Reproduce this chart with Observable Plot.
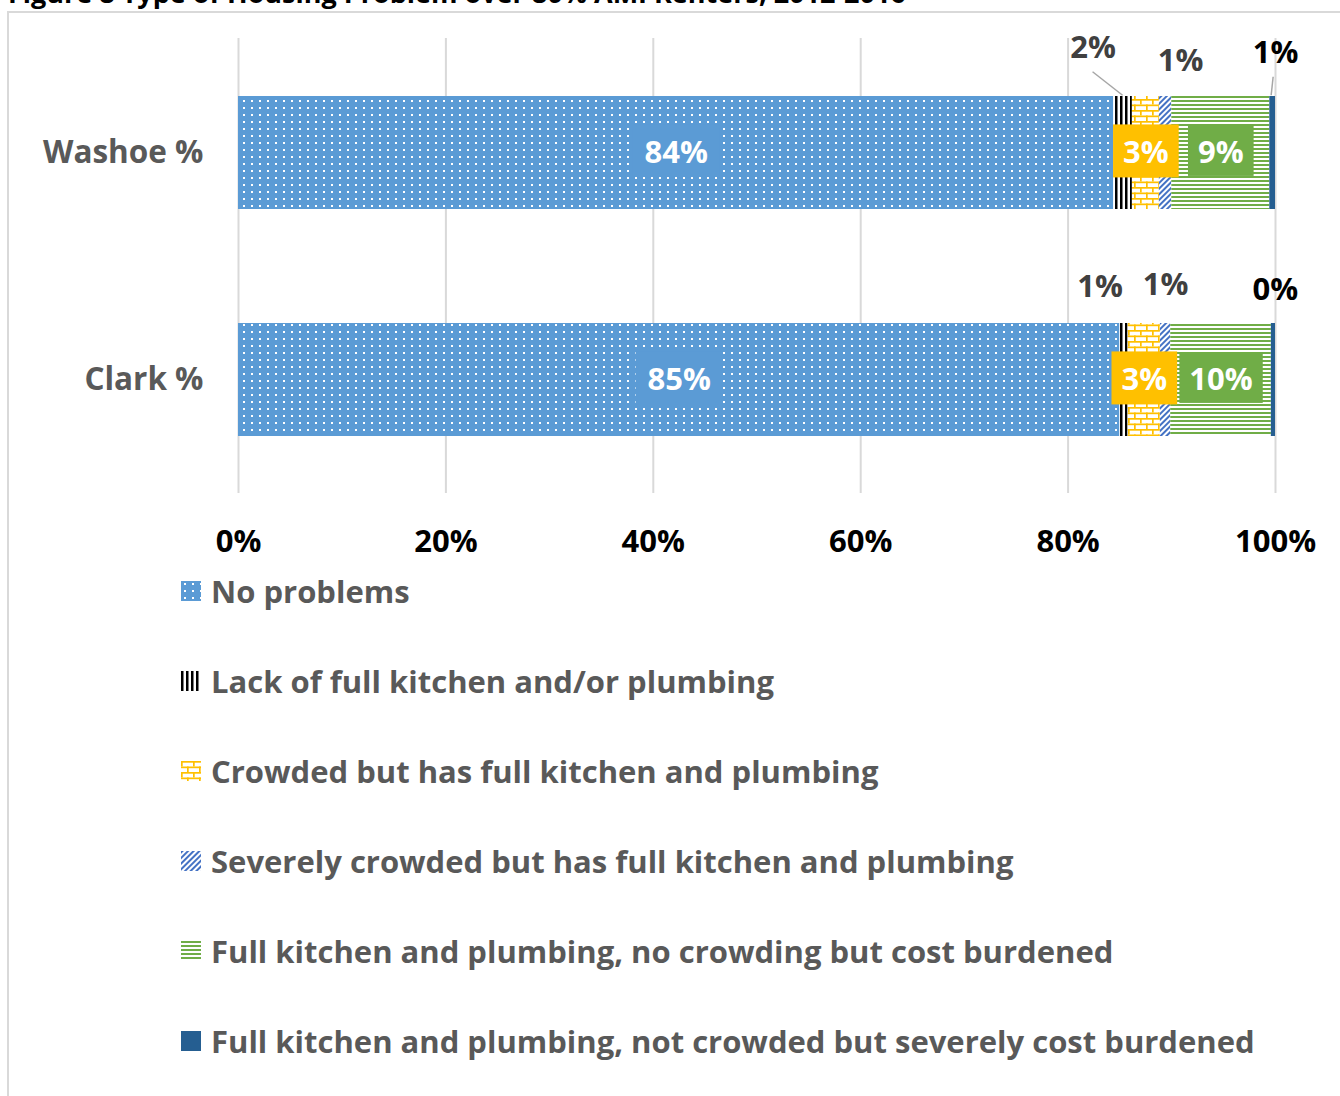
<!DOCTYPE html>
<html><head><meta charset="utf-8">
<script src="https://cdn.jsdelivr.net/npm/d3@7"></script>
<script src="https://cdn.jsdelivr.net/npm/@observablehq/plot@0.6"></script>
<style>
body{margin:0;background:#fff;font-family:"Open Sans", sans-serif;}
#wrap{position:relative;width:1340px;height:1096px;overflow:hidden;background:#fff}
#frame{position:absolute;left:7px;top:11px;width:1400px;height:1200px;border:2px solid #d9d9d9;box-sizing:border-box}
#title{position:absolute;left:8px;top:-20px;font:bold 27px "Open Sans", sans-serif;line-height:26px;color:#000;white-space:nowrap}
#chart{position:absolute;left:0;top:0}
#legend{position:absolute;left:181px;top:571px}
.row{position:absolute;left:0;height:40px;display:flex;align-items:center;white-space:nowrap}
.row span{margin-left:10px;font:bold 31px "Open Sans", sans-serif;color:#595959}
</style></head>
<body>
<svg width="0" height="0" style="position:absolute">
<defs>
<pattern id="pDots" patternUnits="userSpaceOnUse" width="8" height="7">
  <rect width="8" height="7" fill="#5B9BD5"/>
  <rect x="3" y="2" width="2" height="2" fill="#fff"/>
</pattern>
<pattern id="pVert" patternUnits="userSpaceOnUse" width="5" height="5">
  <rect width="5" height="5" fill="#fff"/>
  <rect width="2.5" height="5" fill="#000"/>
</pattern>
<pattern id="pBrick" patternUnits="userSpaceOnUse" width="12" height="11">
  <rect width="12" height="11" fill="#fff"/>
  <rect y="0" width="12" height="1.7" fill="#FFC000"/>
  <rect y="5.5" width="12" height="1.7" fill="#FFC000"/>
  <rect x="0" y="0" width="1.7" height="5.5" fill="#FFC000"/>
  <rect x="6" y="5.5" width="1.7" height="5.5" fill="#FFC000"/>
</pattern>
<pattern id="pDiag" patternUnits="userSpaceOnUse" width="4" height="4" patternTransform="rotate(45)">
  <rect width="4" height="4" fill="#fff"/>
  <rect width="2" height="4" fill="#4472C4"/>
</pattern>
<pattern id="pHoriz" patternUnits="userSpaceOnUse" width="4" height="4">
  <rect width="4" height="4" fill="#fff"/>
  <rect width="4" height="2" fill="#70AD47"/>
</pattern>
</defs></svg>
<div id="wrap">
  <div id="title">Figure 8 Type of Housing Problem over 80% AMI Renters, 2012-2016</div>
  <div id="frame"></div>
  <div id="chart"></div>
  <div id="legend"></div>
</div>
<script>
// ---- data ----
const regions = ["Washoe %", "Clark %"];
const types = [
  "No problems",
  "Lack of full kitchen and/or plumbing",
  "Crowded but has full kitchen and plumbing",
  "Severely crowded but has full kitchen and plumbing",
  "Full kitchen and plumbing, no crowding but cost burdened",
  "Full kitchen and plumbing, not crowded but severely cost burdened"
];
const washoe = [84.4, 1.8, 2.6, 1.2, 9.45, 0.55];
const clark  = [85.0, 0.8, 3.1, 1.0, 9.7, 0.4];
const xTicks = [0, 20, 40, 60, 80, 100];

// ---- styles ----
const fills = ["url(#pDots)", "url(#pVert)", "url(#pBrick)", "url(#pDiag)", "url(#pHoriz)", "#255E91"];
const boxStyle = {0: {color: "#5B9BD5", padX: 12, h: 52}, 2: {color: "#FFC000", padX: 10, h: 53}, 4: {color: "#70AD47", padX: 10, h: 50}};
const outsideStyle = [
  {region: "Washoe %", ti: 1, dx: -30, dy: -105, color: "#404040", leader: [0, 25, 0]},
  {region: "Washoe %", ti: 3, dx: 15, dy: -92, color: "#404040"},
  {region: "Washoe %", ti: 5, dx: 3, dy: -100, color: "#000", leader: [-2, 25, -1]},
  {region: "Clark %", ti: 1, dx: -24, dy: -93, color: "#404040"},
  {region: "Clark %", ti: 3, dx: 0, dy: -95, color: "#404040"},
  {region: "Clark %", ti: 5, dx: 2, dy: -90, color: "#000"}
];

const rows = [];
regions.forEach((r, ri) => {
  const vals = ri === 0 ? washoe : clark;
  let acc = 0;
  vals.forEach((v, ti) => { rows.push({region: r, type: types[ti], ti, value: v, mid: acc + v / 2}); acc += v; });
});
const pct = d => Math.round(d.value) + "%";
const inner = rows.filter(d => d.ti % 2 === 0);
const INNER_FILL = "#ffffff";

const plot = Plot.plot({
  width: 1340, height: 560,
  marginLeft: 238, marginRight: 65, marginTop: 38, marginBottom: 67,
  x: {domain: [0, 100], axis: null},
  y: {domain: regions, axis: null, paddingInner: 0.503, paddingOuter: 0.2516},
  color: {type: "ordinal", domain: types, range: fills},
  style: {fontFamily: "'Open Sans', sans-serif", background: "transparent", overflow: "visible"},
  marks: [
    Plot.ruleX(xTicks, {x: d => d, stroke: "#d9d9d9", strokeWidth: 2}),
    Plot.barX(rows, Plot.stackX({x: "value", y: "region", fill: "type", order: types})),
    Plot.text(inner, {x: "mid", y: "region", text: pct, fill: INNER_FILL, fontSize: 31, fontWeight: "bold"}),
    ...outsideStyle.map(o => Plot.text(rows.filter(d => d.region === o.region && d.ti === o.ti),
      {x: "mid", y: "region", text: pct, dx: o.dx, dy: o.dy, fill: o.color, fontSize: 31, fontWeight: "bold"})),
    Plot.text(regions, {y: d => d, frameAnchor: "left", textAnchor: "end", dx: -35, fill: "#595959", fontSize: 31.5, fontWeight: "bold"}),
    Plot.text(xTicks, {x: d => d, frameAnchor: "bottom", dy: 58, text: d => d + "%", fill: "#000", fontSize: 31, fontWeight: "bold"})
  ]
});
document.getElementById("chart").append(plot);

// label boxes behind inner labels
const innerGroup = Array.from(plot.querySelectorAll("g")).find(g => (g.getAttribute("fill") || "").toLowerCase() === INNER_FILL);
if (innerGroup) {
  innerGroup.querySelectorAll("text").forEach((t, i) => {
    const d = inner[i];
    const s = boxStyle[d.ti];
    const b = t.getBBox();
    const rect = document.createElementNS("http://www.w3.org/2000/svg", "rect");
    const cy = b.y + b.height / 2;
    rect.setAttribute("x", b.x - s.padX);
    rect.setAttribute("width", b.width + 2 * s.padX);
    rect.setAttribute("y", cy - s.h / 2);
    rect.setAttribute("height", s.h);
    rect.setAttribute("fill", s.color);
    const tr = t.getAttribute("transform");
    if (tr) rect.setAttribute("transform", tr);
    t.parentNode.insertBefore(rect, t);
  });
}

// leader lines using the plot's scales
const xs = plot.scale("x"), ysd = plot.scale("y");
const xPix = xs.apply ? (v => xs.apply(v)) : d3.scaleLinear(xs.domain, xs.range);
const yBand = d3.scaleBand(ysd.domain, ysd.range).paddingInner(ysd.paddingInner).paddingOuter(ysd.paddingOuter).align(ysd.align ?? 0.5);
const gL = d3.select(plot).append("g").attr("aria-label", "leaders");
outsideStyle.filter(o => o.leader).forEach(o => {
  const d = rows.find(r => r.region === o.region && r.ti === o.ti);
  const cx = xPix(d.mid), top = yBand(d.region), cyc = top + yBand.bandwidth() / 2;
  const lx = cx + o.dx, ly = cyc + o.dy;
  gL.append("line")
    .attr("x1", lx + o.leader[0]).attr("y1", ly + o.leader[1])
    .attr("x2", cx + o.leader[2]).attr("y2", top)
    .attr("stroke", "#a6a6a6").attr("stroke-width", 1.5);
});

// legend
const legend = d3.select("#legend");
types.forEach((t, i) => {
  const row = legend.append("div").attr("class", "row").style("top", (i * 90) + "px");
  const sw = row.append("svg").attr("width", 20).attr("height", 20);
  sw.append("rect").attr("width", 20).attr("height", 20).attr("fill", fills[i]);
  row.append("span").text(t);
});
</script>
</body></html>
